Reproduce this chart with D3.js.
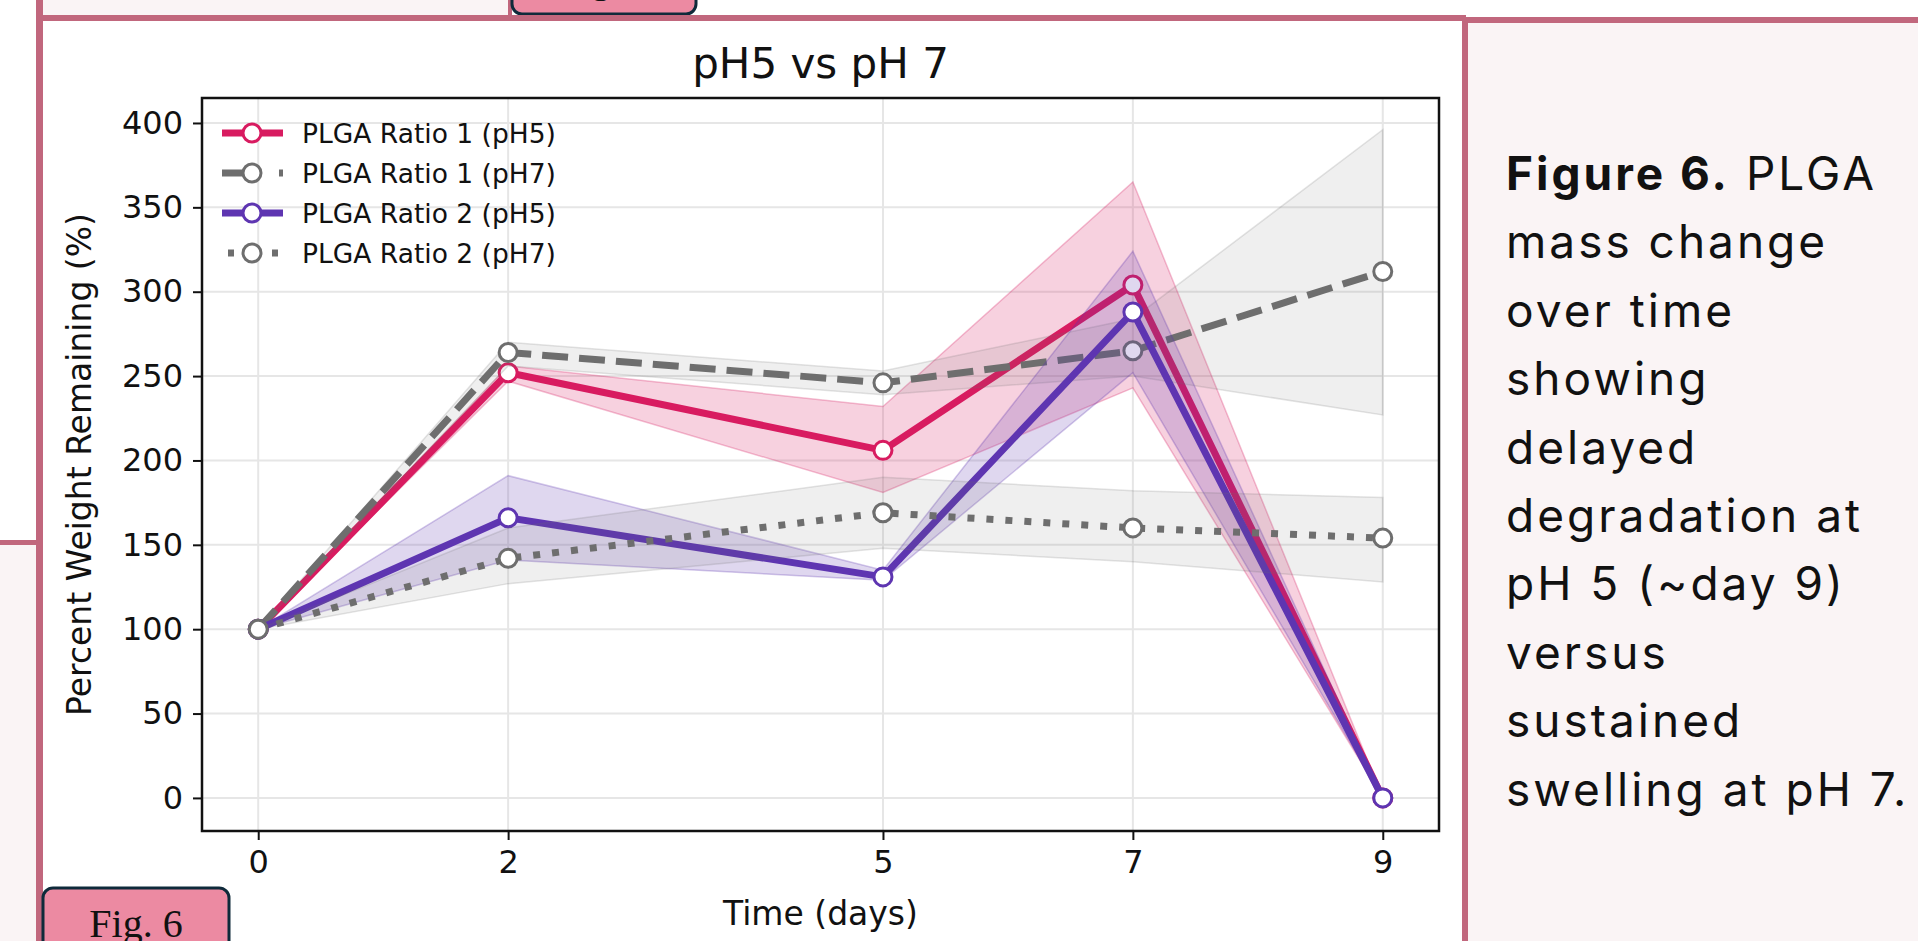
<!DOCTYPE html>
<html><head><meta charset="utf-8">
<title>Figure 6 - pH5 vs pH 7</title>
<script src="https://cdnjs.cloudflare.com/ajax/libs/d3/7.8.5/d3.min.js"></script>
<style>
  body { margin: 0; background: #fff; overflow: hidden; }
  svg text { font-family: "DejaVu Sans", sans-serif; fill: #111; }
  .grid line { stroke: #e6e6e6; stroke-width: 2; }
  .axis line { stroke: #111; stroke-width: 2; }
  .axis .domain { stroke: none; }
  .axis text { font-size: 32px; fill: #111; }
  .caption text { font-family: "Inter", "Lato", sans-serif; font-size: 46px; letter-spacing: 3px; fill: #111; }
</style>
</head>
<body>
<svg id="poster" width="1918" height="941"></svg>
<script>
// ---- data ----
let days = [0, 2, 5, 7, 9];
let xTicks = [0, 2, 5, 7, 9];
let yTicks = [0, 50, 100, 150, 200, 250, 300, 350, 400];

let r1ph5 = [100, 252, 206, 304, 0];
let r1ph5Low = [100, 247, 181, 243, 0];
let r1ph5High = [100, 256, 232, 365, 0];

let r1ph7 = [100, 264, 246, 265, 312];
let r1ph7Low = [100, 256, 239, 250, 227];
let r1ph7High = [100, 270, 253, 284, 396];

let r2ph5 = [100, 166, 131, 288, 0];
let r2ph5Low = [100, 141, 129, 252, 0];
let r2ph5High = [100, 191, 135, 324, 0];

let r2ph7 = [100, 142, 169, 160, 154];
let r2ph7Low = [100, 127, 148, 140, 128];
let r2ph7High = [100, 160, 190, 182, 178];

let seriesNames = ["PLGA Ratio 1 (pH5)", "PLGA Ratio 1 (pH7)", "PLGA Ratio 2 (pH5)", "PLGA Ratio 2 (pH7)"];
let captionLines = ["mass change", "over time", "showing", "delayed", "degradation at",
                    "pH 5 (~day 9)", "versus", "sustained", "swelling at pH 7."];

// styling per series (kept apart from the values)
let series = [
  { name: seriesNames[0], mean: r1ph5, lo: r1ph5Low, hi: r1ph5High, color: "#d81b60", dash: null, legDash: null, bandOp: 0.2 },
  { name: seriesNames[1], mean: r1ph7, lo: r1ph7Low, hi: r1ph7High, color: "#6e6e6e", dash: "26,11", legDash: "24,33,4,10", bandOp: 0.11 },
  { name: seriesNames[2], mean: r2ph5, lo: r2ph5Low, hi: r2ph5High, color: "#5e35b1", dash: null, legDash: null, bandOp: 0.2 },
  { name: seriesNames[3], mean: r2ph7, lo: r2ph7Low, hi: r2ph7High, color: "#6e6e6e", dash: "7,12", legDash: "0,6,6,38,6,20", bandOp: 0.11 }
];

let svg = d3.select("#poster");
let pink = "#c1677d";
let pale = "#faf4f5";

// ---- poster frame around the chart ----
// left strip
svg.append("rect").attr("x", 0).attr("y", 545).attr("width", 36).attr("height", 400).attr("fill", pale);
svg.append("rect").attr("x", 0).attr("y", 540).attr("width", 38).attr("height", 5).attr("fill", pink);
// top-left panel
svg.append("rect").attr("x", 40).attr("y", -10).attr("width", 470).attr("height", 28).attr("fill", pale);
svg.append("rect").attr("x", 508).attr("y", -10).attr("width", 4).attr("height", 28).attr("fill", pink);
// top tag (mostly cut off by the page edge)
svg.append("rect").attr("x", 512).attr("y", -40).attr("width", 184).attr("height", 54).attr("rx", 10)
  .attr("fill", "#ec8aa2").attr("stroke", "#0f2a3a").attr("stroke-width", 3);
svg.append("text").attr("x", 604).attr("y", -8).attr("text-anchor", "middle")
  .style("font-family", "'Liberation Serif', serif").style("font-size", "40px").text("Fig. 5");
// chart panel borders
svg.append("rect").attr("x", 36).attr("y", 0).attr("width", 7).attr("height", 941).attr("fill", pink);
svg.append("rect").attr("x", 36).attr("y", 15).attr("width", 1430).attr("height", 6).attr("fill", pink);
// right caption panel
svg.append("rect").attr("x", 1466).attr("y", 20).attr("width", 460).attr("height", 930).attr("fill", pale);
svg.append("rect").attr("x", 1462).attr("y", 17).attr("width", 460).attr("height", 6).attr("fill", pink);
svg.append("rect").attr("x", 1462).attr("y", 17).attr("width", 6).attr("height", 930).attr("fill", pink);

// ---- chart ----
let axL = 202, axR = 1439, axT = 98, axB = 831;
let x = d3.scaleLinear().domain([-0.45, 9.45]).range([axL, axR]);
let y = d3.scaleLinear().domain([-19.6, 414.8]).range([axB, axT]);

svg.append("defs").append("clipPath").attr("id", "plotclip")
  .append("rect").attr("x", axL).attr("y", axT).attr("width", axR - axL).attr("height", axB - axT);

// gridlines
let grid = svg.append("g").attr("class", "grid");
grid.selectAll(".gy").data(yTicks).enter().append("line")
  .attr("x1", axL).attr("x2", axR).attr("y1", d => y(d)).attr("y2", d => y(d));
grid.selectAll(".gx").data(xTicks).enter().append("line")
  .attr("y1", axT).attr("y2", axB).attr("x1", d => x(d)).attr("x2", d => x(d));

let plot = svg.append("g").attr("clip-path", "url(#plotclip)");

let band = d3.area().x((d, i) => x(days[i])).y0(d => y(d[0])).y1(d => y(d[1]));
let line = d3.line().x((d, i) => x(days[i])).y(d => y(d));

series.forEach(s => {
  let g = plot.append("g");
  g.append("path")
    .datum(s.lo.map((v, i) => [v, s.hi[i]]))
    .attr("d", band)
    .attr("fill", s.color).attr("fill-opacity", s.bandOp)
    .attr("stroke", s.color).attr("stroke-opacity", s.bandOp + 0.08).attr("stroke-width", 1.5);
  g.append("path")
    .datum(s.mean)
    .attr("d", line)
    .attr("fill", "none").attr("stroke", s.color).attr("stroke-width", 7)
    .attr("stroke-dasharray", s.dash);
  g.selectAll("circle").data(s.mean).enter().append("circle")
    .attr("cx", (d, i) => x(days[i])).attr("cy", d => y(d)).attr("r", 9)
    .attr("fill", "#fff").attr("stroke", s.color).attr("stroke-width", 3);
});

// axes
let xAxis = d3.axisBottom(x).tickValues(xTicks).tickSize(9).tickPadding(10).tickFormat(d3.format("d"));
let yAxis = d3.axisLeft(y).tickValues(yTicks).tickSize(9).tickPadding(10).tickFormat(d3.format("d"));
svg.append("g").attr("class", "axis").attr("transform", "translate(0," + axB + ")").call(xAxis);
svg.append("g").attr("class", "axis").attr("transform", "translate(" + axL + ",0)").call(yAxis);

svg.append("rect").attr("x", axL).attr("y", axT).attr("width", axR - axL).attr("height", axB - axT)
  .attr("fill", "none").attr("stroke", "#111").attr("stroke-width", 2.5);

// titles
svg.append("text").attr("x", (axL + axR) / 2).attr("y", 78).attr("text-anchor", "middle")
  .style("font-size", "42px").text("pH5 vs pH 7");
svg.append("text").attr("x", (axL + axR) / 2).attr("y", 925).attr("text-anchor", "middle")
  .style("font-size", "33px").text("Time (days)");
svg.append("text").attr("transform", "translate(91," + ((axT + axB) / 2) + ") rotate(-90)")
  .attr("text-anchor", "middle").style("font-size", "33px").text("Percent Weight Remaining (%)");

// legend
let legend = svg.append("g").attr("transform", "translate(222,133)");
series.forEach((s, i) => {
  let row = legend.append("g").attr("transform", "translate(0," + (i * 40) + ")");
  row.append("line").attr("x1", 0).attr("x2", 61).attr("y1", 0).attr("y2", 0)
    .attr("stroke", s.color).attr("stroke-width", 7).attr("stroke-dasharray", s.legDash);
  row.append("circle").attr("cx", 30).attr("cy", 0).attr("r", 9)
    .attr("fill", "#fff").attr("stroke", s.color).attr("stroke-width", 3);
  row.append("text").attr("x", 80).attr("y", 0).attr("dy", "0.36em")
    .style("font-size", "26.5px").text(s.name);
});

// ---- caption panel ----
let cap = svg.append("g").attr("class", "caption");
let lineStep = 68.4;
let first = cap.append("text").attr("x", 1506).attr("y", 190);
first.append("tspan").style("font-weight", "bold").text("Figure 6.");
first.append("tspan").text(" PLGA");
cap.selectAll(".cl").data(captionLines).enter().append("text")
  .attr("x", 1506).attr("y", (d, i) => 190 + (i + 1) * lineStep).text(d => d);

// ---- bottom tag ----
svg.append("rect").attr("x", 43).attr("y", 888).attr("width", 186).attr("height", 80).attr("rx", 10)
  .attr("fill", "#ec8aa2").attr("stroke", "#0f2a3a").attr("stroke-width", 3);
svg.append("text").attr("x", 136).attr("y", 937).attr("text-anchor", "middle")
  .style("font-family", "'Liberation Serif', serif").style("font-size", "40px").text("Fig. 6");
</script>
</body></html>
